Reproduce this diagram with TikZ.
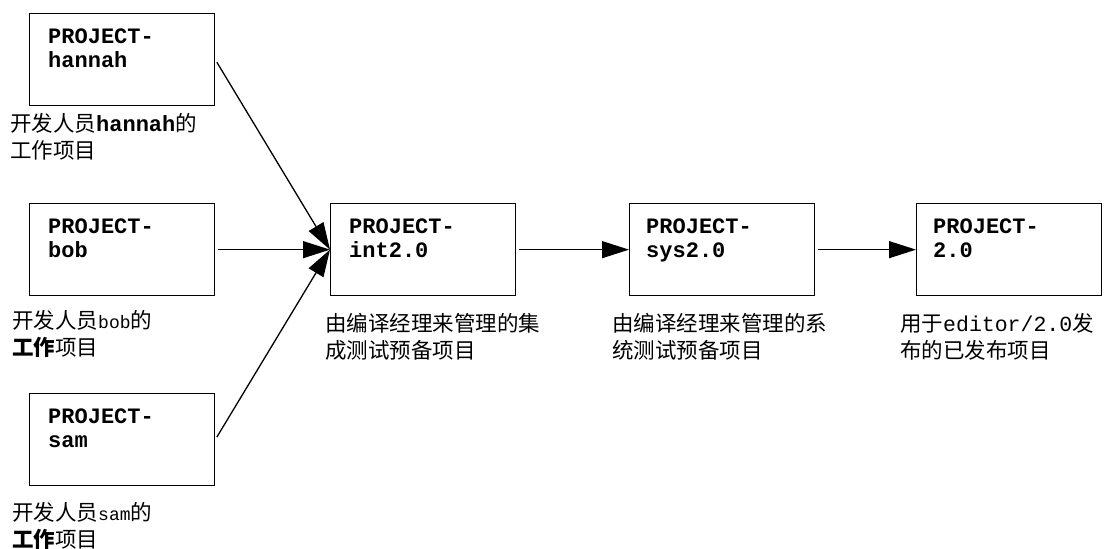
\documentclass[tikz,border=0pt]{standalone}
\usepackage{fontspec}
\setmonofont{Liberation Mono}
\newfontfamily\cjk{Noto Sans CJK SC}
\usetikzlibrary{arrows.meta}
\newcommand{\projfont}{\fontsize{22}{24}\selectfont\ttfamily\bfseries}
\newcommand{\notefont}{\fontsize{21.5}{27}\selectfont\cjk}
\newcommand{\smalltt}[1]{{\fontsize{18}{27}\selectfont\ttfamily #1}}
\tikzset{
  project/.style={draw, line width=1.3pt, minimum width=185pt, minimum height=92pt, inner sep=0pt, anchor=north west},
  projtext/.style={anchor=north west, align=left, inner sep=0pt, font=\projfont},
  note/.style={anchor=north west, align=left, inner sep=0pt, font=\notefont},
  feed/.style={line width=1.3pt, -{Triangle[length=27pt,width=17pt]}, shorten <=3pt}
}

\begin{document}
\begin{tikzpicture}[x=1pt, y=-1pt]
\useasboundingbox (0,0) rectangle (1109,549);

\node[project] (hannah) at (29,13) {};
\node[projtext] (hannah-t) at ([shift={(19,16)}]hannah.north west) {PROJECT-\\hannah};
\node[note] (hannah-n) at (10,113) {开发人员{\projfont hannah}的\\工作项目};

\node[project] (bob) at (29,203) {};
\node[projtext] (bob-t) at ([shift={(19,16)}]bob.north west) {PROJECT-\\bob};
\node[note] (bob-n) at (12,310) {开发人员\smalltt{bob}的\\{\bfseries 工作}项目};

\node[project] (sam) at (29,393) {};
\node[projtext] (sam-t) at ([shift={(19,16)}]sam.north west) {PROJECT-\\sam};
\node[note] (sam-n) at (12,502) {开发人员\smalltt{sam}的\\{\bfseries 工作}项目};

\node[project] (int) at (330,203) {};
\node[projtext] (int-t) at ([shift={(19,16)}]int.north west) {PROJECT-\\int2.0};
\node[note] (int-n) at (325,313) {由编译经理来管理的集\\成测试预备项目};

\node[project] (sys) at (629,203) {};
\node[projtext] (sys-t) at ([shift={(17,16)}]sys.north west) {PROJECT-\\sys2.0};
\node[note] (sys-n) at (612,313) {由编译经理来管理的系\\统测试预备项目};

\node[project] (rel) at (916,203) {};
\node[projtext] (rel-t) at ([shift={(17,16)}]rel.north west) {PROJECT-\\2.0};
\node[note] (rel-n) at (900,313) {用于{\ttfamily editor/2.0}发\\布的已发布项目};

\draw[feed] (hannah.east) -- (int.west);
\draw[feed] (bob.east) -- (int.west);
\draw[feed] (sam.east) -- (int.west);
\draw[feed] (int.east) -- (sys.west);
\draw[feed] (sys.east) -- (rel.west);

\end{tikzpicture}
\end{document}
